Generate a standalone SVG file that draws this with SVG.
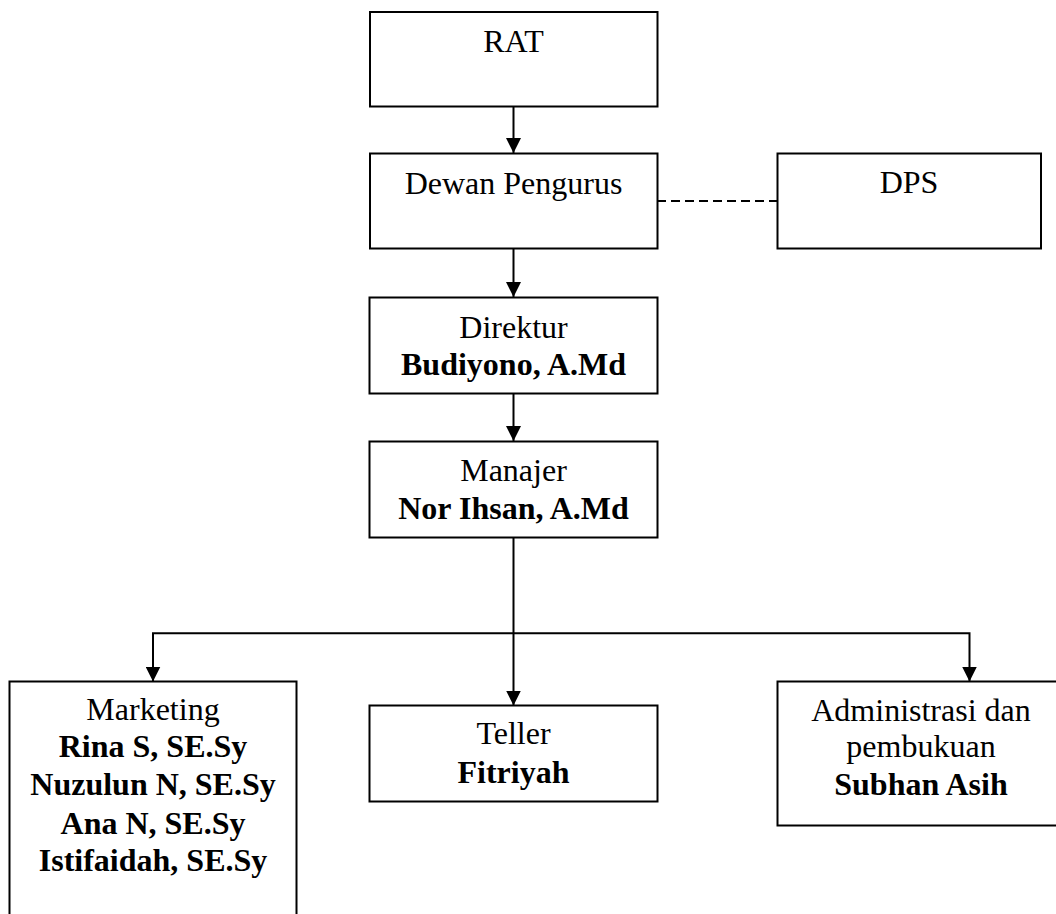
<svg xmlns="http://www.w3.org/2000/svg" width="1056" height="914" viewBox="0 0 1056 914">
<style>
.box{fill:#fff;stroke:#000;stroke-width:2}
.t{font-family:"Liberation Serif","Times New Roman",serif;font-size:32px;text-anchor:middle;fill:#000}
.b{font-weight:bold}
.c{fill:none;stroke:#000;stroke-width:2}
.d{fill:none;stroke:#000;stroke-width:2;stroke-dasharray:9,5}
</style>
<defs>
<marker id="ah" markerUnits="userSpaceOnUse" markerWidth="16" markerHeight="15" refX="15" refY="7.5" orient="auto" viewBox="0 0 16 15">
<path d="M0,0 L15,7.5 L0,15 z" fill="#000"/>
</marker>
</defs>
<rect width="1056" height="914" fill="#fff"/>
<g id="connectors">
<line class="c" x1="513.5" y1="107" x2="513.5" y2="153" marker-end="url(#ah)"/>
<line class="c" x1="513.5" y1="248" x2="513.5" y2="297" marker-end="url(#ah)"/>
<line class="c" x1="513.5" y1="393" x2="513.5" y2="441" marker-end="url(#ah)"/>
<line class="c" x1="513.5" y1="538" x2="513.5" y2="705.5" marker-end="url(#ah)"/>
<polyline class="c" points="153,681.5 153,633.3 969.5,633.3 969.5,681.5" marker-end="url(#ah)"/>
<line class="c" x1="153" y1="634" x2="153" y2="681.5" marker-end="url(#ah)"/>
<line class="d" x1="657" y1="201" x2="777" y2="201"/>
</g>
<g id="rat">
<rect class="box" x="370" y="12" width="287.5" height="94.5"/>
<text class="t" x="513.5" y="52">RAT</text>
</g>
<g id="dewan">
<rect class="box" x="370" y="153.5" width="287.5" height="95"/>
<text class="t" x="513.5" y="194">Dewan Pengurus</text>
</g>
<g id="dps">
<rect class="box" x="777.5" y="153.5" width="263.5" height="95"/>
<text class="t" x="909" y="193">DPS</text>
</g>
<g id="direktur">
<rect class="box" x="369.5" y="297.5" width="288" height="96"/>
<text class="t" x="513.5" y="337.5">Direktur</text>
<text class="t b" x="513.5" y="375">Budiyono, A.Md</text>
</g>
<g id="manajer">
<rect class="box" x="369.5" y="441.5" width="288" height="96"/>
<text class="t" x="513.5" y="481">Manajer</text>
<text class="t b" x="513.5" y="518.5">Nor Ihsan, A.Md</text>
</g>
<g id="marketing">
<rect class="box" x="9.5" y="681.5" width="287" height="260"/>
<text class="t" x="153" y="719.5">Marketing</text>
<text class="t b" x="153" y="756.5">Rina S, SE.Sy</text>
<text class="t b" x="153" y="795">Nuzulun N, SE.Sy</text>
<text class="t b" x="153" y="833.5">Ana N, SE.Sy</text>
<text class="t b" x="153" y="871">Istifaidah, SE.Sy</text>
</g>
<g id="teller">
<rect class="box" x="369.5" y="705.5" width="288" height="96"/>
<text class="t" x="513.5" y="744">Teller</text>
<text class="t b" x="513.5" y="782.5">Fitriyah</text>
</g>
<g id="admin">
<rect class="box" x="777.5" y="681.5" width="288" height="144"/>
<text class="t" x="921" y="721">Administrasi dan</text>
<text class="t" x="921" y="757">pembukuan</text>
<text class="t b" x="921" y="795">Subhan Asih</text>
</g>
</svg>
